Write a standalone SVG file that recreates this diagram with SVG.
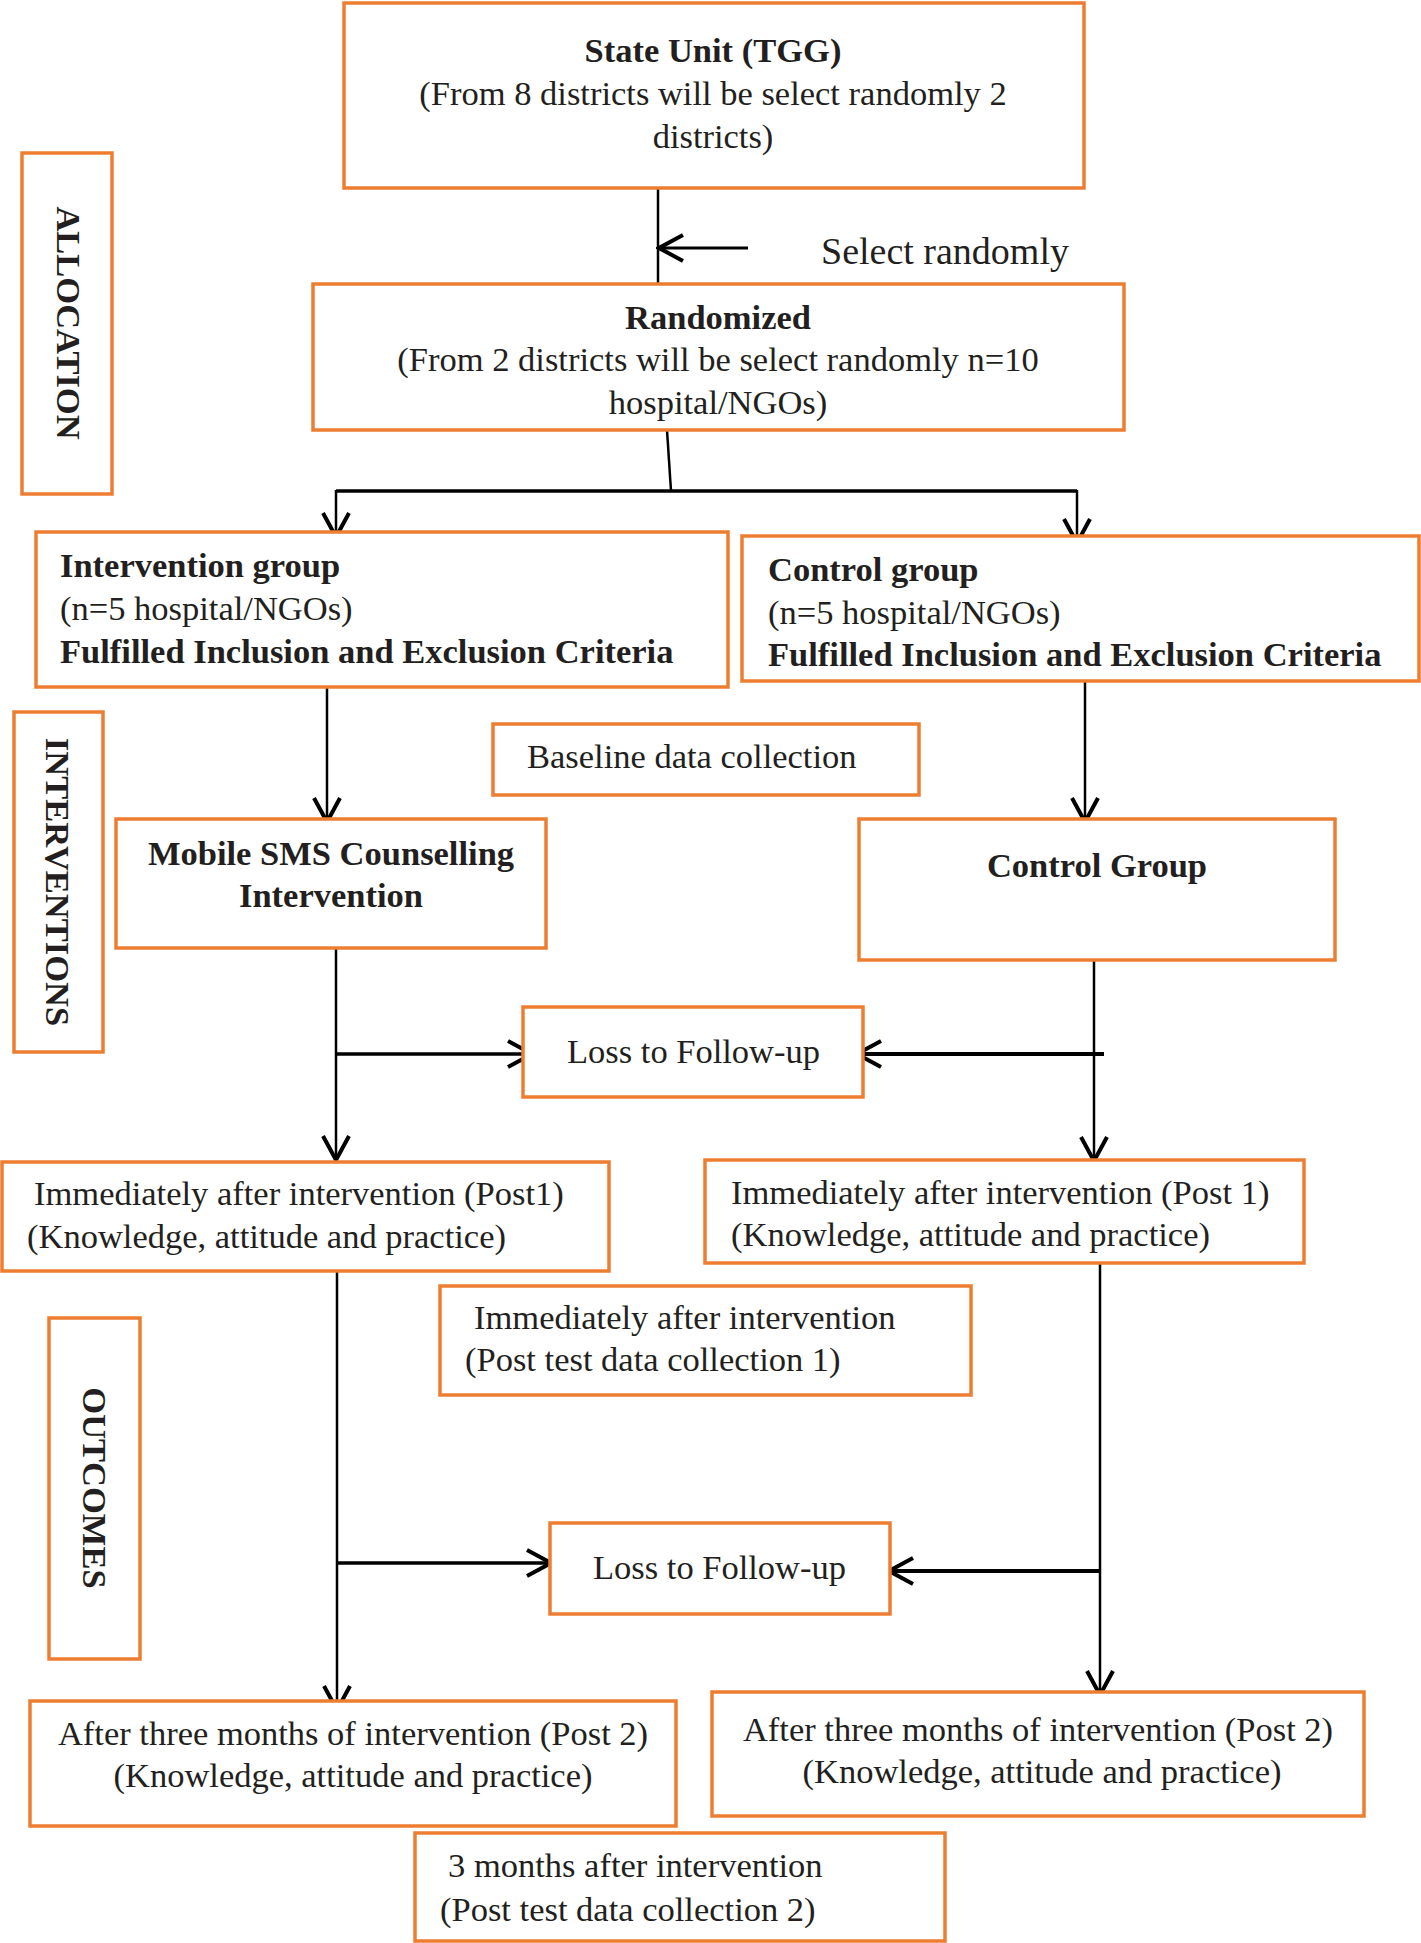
<svg xmlns="http://www.w3.org/2000/svg" width="1421" height="1943" viewBox="0 0 1421 1943">
<defs>
<style>
.box{fill:#fff;stroke:#ED7D31;stroke-width:3.5}
text{font-family:"Liberation Serif","Times New Roman",serif;font-size:34.5px;fill:#231f20}
.b{font-weight:bold}
.m{text-anchor:middle}
.c{stroke:#000;stroke-width:2.5;fill:none}
.t{stroke:#000;stroke-width:4;fill:none}
.big{font-size:38px}
</style>
<marker id="arr" viewBox="0 0 30 32" refX="27" refY="16" markerWidth="30" markerHeight="32" markerUnits="userSpaceOnUse" orient="auto">
<path d="M3,3 L27,16 L3,29" fill="none" stroke="#000" stroke-width="4"/>
</marker>
</defs>
<rect width="1421" height="1943" fill="#fff"/>

<g id="connectors">
<line class="c" x1="658" y1="188" x2="658" y2="284"/>
<line class="c" style="stroke-width:3" x1="748" y1="248" x2="659" y2="248" marker-end="url(#arr)"/>
<line class="c" x1="667" y1="430" x2="671" y2="491"/>
<line class="t" style="stroke-width:3.5" x1="336" y1="491" x2="1077" y2="491"/>
<line class="c" x1="336" y1="490" x2="336" y2="537" marker-end="url(#arr)"/>
<line class="c" x1="1077" y1="490" x2="1077" y2="543" marker-end="url(#arr)"/>
<line class="c" x1="327" y1="687" x2="327" y2="822" marker-end="url(#arr)"/>
<line class="c" x1="1085" y1="681" x2="1085" y2="822" marker-end="url(#arr)"/>
<line class="c" x1="336" y1="948" x2="336" y2="1160" marker-end="url(#arr)"/>
<line class="t" style="stroke-width:3.5" x1="336" y1="1054" x2="532" y2="1054" marker-end="url(#arr)"/>
<line class="c" x1="1094" y1="960" x2="1094" y2="1161" marker-end="url(#arr)"/>
<line class="t" x1="1104" y1="1054" x2="857" y2="1054" marker-end="url(#arr)"/>
<line class="c" x1="337" y1="1271" x2="337" y2="1710" marker-end="url(#arr)"/>
<line class="t" style="stroke-width:3.5" x1="337" y1="1563" x2="551" y2="1563" marker-end="url(#arr)"/>
<line class="c" x1="1100" y1="1263" x2="1100" y2="1695" marker-end="url(#arr)"/>
<line class="t" x1="1100" y1="1571" x2="889" y2="1571" marker-end="url(#arr)"/>
</g>

<text class="big" x="821" y="264">Select randomly</text>

<g id="state-unit">
<rect class="box" x="344" y="3" width="740" height="185"/>
<text class="b m" x="713" y="62">State Unit (TGG)</text>
<text class="m" x="713" y="105">(From 8 districts will be select randomly 2</text>
<text class="m" x="713" y="148">districts)</text>
</g>

<g id="randomized">
<rect class="box" x="313" y="284" width="811" height="146"/>
<text class="b m" x="718" y="329">Randomized</text>
<text class="m" x="718" y="371">(From 2 districts will be select randomly n=10</text>
<text class="m" x="718" y="414">hospital/NGOs)</text>
</g>

<g id="allocation">
<rect class="box" x="22" y="153" width="90" height="341"/>
<text class="b m" transform="translate(57,323) rotate(90)" x="0" y="0">ALLOCATION</text>
</g>

<g id="intervention-group">
<rect class="box" x="36" y="532" width="692" height="155"/>
<text class="b" x="60" y="577">Intervention group</text>
<text x="60" y="620">(n=5 hospital/NGOs)</text>
<text class="b" x="60" y="663">Fulfilled Inclusion and Exclusion Criteria</text>
</g>

<g id="control-group">
<rect class="box" x="742" y="536" width="677" height="145"/>
<text class="b" x="768" y="581">Control group</text>
<text x="768" y="624">(n=5 hospital/NGOs)</text>
<text class="b" x="768" y="666">Fulfilled Inclusion and Exclusion Criteria</text>
</g>

<g id="interventions">
<rect class="box" x="14" y="712" width="89" height="340"/>
<text class="b m" transform="translate(46,882) rotate(90)" x="0" y="0">INTERVENTIONS</text>
</g>

<g id="baseline">
<rect class="box" x="493" y="724" width="426" height="71"/>
<text x="527" y="768">Baseline data collection</text>
</g>

<g id="mobile-sms">
<rect class="box" x="116" y="819" width="430" height="129"/>
<text class="b m" x="331" y="865">Mobile SMS Counselling</text>
<text class="b m" x="331" y="907">Intervention</text>
</g>

<g id="control-group-2">
<rect class="box" x="859" y="819" width="476" height="141"/>
<text class="b m" x="1097" y="877">Control Group</text>
</g>

<g id="loss-1">
<rect class="box" x="523" y="1007" width="340" height="90"/>
<text x="567" y="1063">Loss to Follow-up</text>
</g>

<g id="post1-left">
<rect class="box" x="2" y="1162" width="607" height="109"/>
<text x="34" y="1205">Immediately after intervention (Post1)</text>
<text x="27" y="1248">(Knowledge, attitude and practice)</text>
</g>

<g id="post1-right">
<rect class="box" x="705" y="1160" width="599" height="103"/>
<text x="731" y="1204">Immediately after intervention (Post 1)</text>
<text x="731" y="1246">(Knowledge, attitude and practice)</text>
</g>

<g id="post-test-1">
<rect class="box" x="440" y="1286" width="531" height="109"/>
<text x="474" y="1329">Immediately after intervention</text>
<text x="465" y="1371">(Post test data collection 1)</text>
</g>

<g id="outcomes">
<rect class="box" x="49" y="1318" width="91" height="341"/>
<text class="b m" transform="translate(83,1488) rotate(90)" x="0" y="0">OUTCOMES</text>
</g>

<g id="loss-2">
<rect class="box" x="550" y="1523" width="340" height="91"/>
<text x="593" y="1579">Loss to Follow-up</text>
</g>

<g id="post2-left">
<rect class="box" x="30" y="1701" width="646" height="125"/>
<text class="m" x="353" y="1745">After three months of intervention (Post 2)</text>
<text class="m" x="353" y="1787">(Knowledge, attitude and practice)</text>
</g>

<g id="post2-right">
<rect class="box" x="712" y="1692" width="652" height="124"/>
<text class="m" x="1038" y="1741">After three months of intervention (Post 2)</text>
<text class="m" x="1042" y="1783">(Knowledge, attitude and practice)</text>
</g>

<g id="post-test-2">
<rect class="box" x="415" y="1833" width="530" height="108"/>
<text x="448" y="1877">3 months after intervention</text>
<text x="440" y="1921">(Post test data collection 2)</text>
</g>
</svg>
